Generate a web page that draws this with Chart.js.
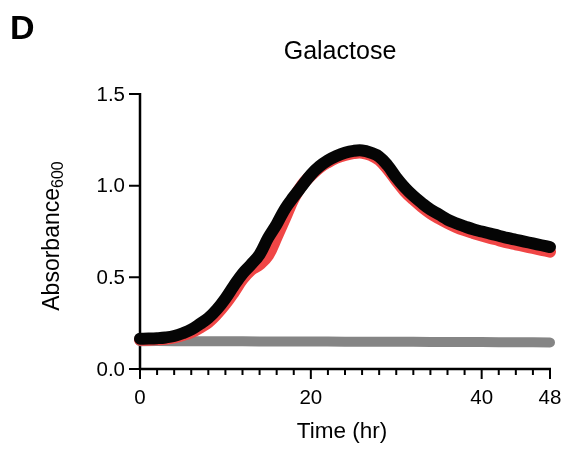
<!DOCTYPE html>
<html>
<head>
<meta charset="utf-8">
<script src="https://cdn.jsdelivr.net/npm/chart.js@4/dist/chart.umd.min.js"></script>
<style>
  html, body { margin: 0; padding: 0; background: #fff; }
  #wrap { width: 564px; height: 450px; }
</style>
</head>
<body>
<div id="wrap"><canvas id="growth" width="564" height="450"></canvas></div>
<script>
// Growth in galactose: OD600 over 48 h, one reading per hour
const hours = [0, 1, 2, 3, 4, 5, 6, 7, 8, 9, 10, 11, 12, 13, 14, 15, 16, 17, 18, 19, 20, 21, 22, 23, 24,
  25, 26, 27, 28, 29, 30, 31, 32, 33, 34, 35, 36, 37, 38, 39, 40, 41, 42, 43, 44, 45, 46, 47, 48];

const blackOD = [0.165, 0.166, 0.168, 0.172, 0.180, 0.195, 0.215, 0.245, 0.278, 0.325, 0.385, 0.455, 0.520, 0.570, 0.625, 0.715, 0.790, 0.875, 0.940, 1.000,
  1.060, 1.105, 1.138, 1.162, 1.180, 1.190, 1.192, 1.180, 1.158, 1.110, 1.045, 0.990, 0.944, 0.905, 0.870, 0.843, 0.815, 0.795, 0.778, 0.762,
  0.750, 0.738, 0.727, 0.715, 0.705, 0.695, 0.685, 0.675, 0.665];

const redOD = [0.160, 0.160, 0.162, 0.165, 0.172, 0.185, 0.200, 0.225, 0.255, 0.300, 0.355, 0.420, 0.490, 0.540, 0.570, 0.620, 0.720, 0.825, 0.930, 1.005,
  1.055, 1.098, 1.128, 1.152, 1.168, 1.178, 1.180, 1.168, 1.140, 1.090, 1.028, 0.970, 0.925, 0.885, 0.850, 0.822, 0.797, 0.775, 0.757, 0.742,
  0.728, 0.715, 0.703, 0.690, 0.680, 0.670, 0.660, 0.650, 0.640];

// Blank medium control
const grayHours = [0, 4, 8, 12, 16, 20, 24, 28, 32, 36, 40, 44, 48];
const grayOD = [0.152, 0.152, 0.151, 0.151, 0.150, 0.150, 0.149, 0.149, 0.148, 0.147, 0.147, 0.146, 0.145];

const xTickLabels = [0, 20, 40, 48];
const xMinorStep = 2;
const yTickValues = [0, 0.5, 1.0, 1.5];

const FONT = '"Liberation Sans", Arial, Helvetica, sans-serif';

const toPoints = (xs, ys) => xs.map((x, i) => ({ x: x, y: ys[i] }));

// Axes, ticks and text drawn from the chart's own scales
const frame = {
  id: 'frame',
  beforeDatasetsDraw(chart) {
    const ctx = chart.ctx;
    const x = chart.scales.x, y = chart.scales.y;
    const x0 = x.getPixelForValue(0), x1 = x.getPixelForValue(48);
    const y0 = y.getPixelForValue(0), y1 = y.getPixelForValue(1.5);
    ctx.save();
    ctx.strokeStyle = '#000';
    ctx.lineWidth = 2.5;
    ctx.lineCap = 'butt';
    ctx.beginPath();
    ctx.moveTo(x0, y1 - 1); ctx.lineTo(x0, y0 + 1);
    ctx.moveTo(x0 - 1, y0); ctx.lineTo(x1 + 1, y0);
    ctx.stroke();

    ctx.lineWidth = 2;
    ctx.beginPath();
    for (let h = 0; h <= 48; h += xMinorStep) {
      const px = x.getPixelForValue(h);
      const len = xTickLabels.includes(h) ? 10 : 6;
      ctx.moveTo(px, y0); ctx.lineTo(px, y0 + len);
    }
    yTickValues.forEach(v => {
      const py = y.getPixelForValue(v);
      ctx.moveTo(x0, py); ctx.lineTo(x0 - 11, py);
    });
    ctx.stroke();

    ctx.fillStyle = '#000';
    ctx.font = '20.5px ' + FONT;
    ctx.textAlign = 'center';
    ctx.textBaseline = 'alphabetic';
    xTickLabels.forEach(h => ctx.fillText(String(h), x.getPixelForValue(h), 404));
    ctx.textAlign = 'right';
    ctx.textBaseline = 'middle';
    yTickValues.forEach(v => ctx.fillText(v.toFixed(1), 125, y.getPixelForValue(v) + 1));

    ctx.textAlign = 'center';
    ctx.textBaseline = 'alphabetic';
    ctx.font = '25px ' + FONT;
    ctx.fillText('Galactose', 340, 59);
    ctx.font = '22.5px ' + FONT;
    ctx.fillText('Time (hr)', 342, 438);

    ctx.font = 'bold 34px ' + FONT;
    ctx.textAlign = 'left';
    ctx.fillText('D', 10, 39);

    // rotated y title with subscript
    ctx.save();
    ctx.translate(59, 236);
    ctx.rotate(-Math.PI / 2);
    const main = 'Absorbance';
    ctx.font = '23px ' + FONT;
    const w1 = ctx.measureText(main).width;
    ctx.font = '16px ' + FONT;
    const w2 = ctx.measureText('600').width;
    const start = -(w1 + w2) / 2;
    ctx.textAlign = 'left';
    ctx.font = '23px ' + FONT;
    ctx.fillText(main, start, 0);
    ctx.font = '16px ' + FONT;
    ctx.fillText('600', start + w1, 4);
    ctx.restore();

    ctx.restore();
  }
};

new Chart(document.getElementById('growth'), {
  type: 'line',
  data: {
    datasets: [
      {
        label: 'Strain 1',
        data: toPoints(hours, blackOD),
        borderColor: '#050505',
        borderWidth: 12,
        borderCapStyle: 'round',
        borderJoinStyle: 'round',
        pointRadius: 0,
        tension: 0.4,
        clip: false,
        order: 0
      },
      {
        label: 'Strain 2',
        data: toPoints(hours, redOD),
        borderColor: '#f04646',
        borderWidth: 12,
        borderCapStyle: 'round',
        borderJoinStyle: 'round',
        pointRadius: 0,
        tension: 0.4,
        clip: false,
        order: 1
      },
      {
        label: 'Blank',
        data: toPoints(grayHours, grayOD),
        borderColor: '#858585',
        borderWidth: 10,
        borderCapStyle: 'round',
        pointRadius: 0,
        tension: 0.3,
        clip: false,
        order: 2
      }
    ]
  },
  options: {
    responsive: false,
    animation: false,
    devicePixelRatio: 1,
    layout: { padding: { left: 140, right: 14, top: 94, bottom: 81 } },
    plugins: { legend: { display: false }, title: { display: false }, tooltip: { enabled: false } },
    scales: {
      x: { type: 'linear', min: 0, max: 48, display: false },
      y: { type: 'linear', min: 0, max: 1.5, display: false }
    }
  },
  plugins: [frame]
});
</script>
</body>
</html>
